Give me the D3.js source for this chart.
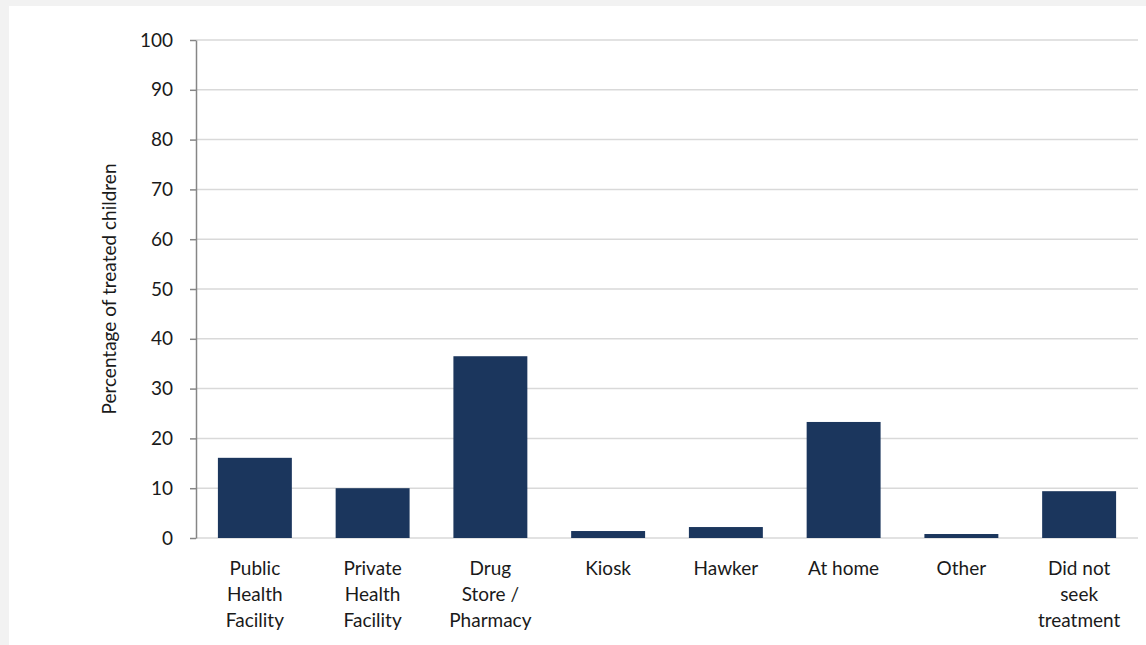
<!DOCTYPE html>
<html>
<head>
<meta charset="utf-8">
<script src="https://cdn.jsdelivr.net/npm/d3@7"></script>
<style>
  html, body { margin: 0; padding: 0; background: #f2f2f2; }
  svg { display: block; }
  text { font-family: Lato, "Open Sans", sans-serif; fill: #1a1a1a; }
</style>
</head>
<body>
<svg id="chart" width="1146" height="645"></svg>
<script>
// Where treated children sought care (% of treated children)
const categories = [
  ["Public", "Health", "Facility"],
  ["Private", "Health", "Facility"],
  ["Drug", "Store /", "Pharmacy"],
  ["Kiosk"],
  ["Hawker"],
  ["At home"],
  ["Other"],
  ["Did not", "seek", "treatment"]
];
const values = [16.1, 10.0, 36.5, 1.4, 2.2, 23.3, 0.8, 9.4];
const yTicks = [0, 10, 20, 30, 40, 50, 60, 70, 80, 90, 100];
const yTitle = "Percentage of treated children";

const fontSize = 19;
const svg = d3.select("#chart");

// white panel
svg.append("rect").attr("x", 9).attr("y", 6).attr("width", 1137).attr("height", 639).attr("fill", "#ffffff");

const x = d3.scaleBand()
  .domain(d3.range(categories.length))
  .range([196, 1138])
  .paddingInner(0.372)
  .paddingOuter(0.186);

const y = d3.scaleLinear().domain([0, 100]).range([538, 40]);

// gridlines
svg.append("g")
  .selectAll("line")
  .data(yTicks)
  .join("line")
  .attr("x1", 196).attr("x2", 1138)
  .attr("y1", d => y(d)).attr("y2", d => y(d))
  .attr("stroke", "#d9d9d9").attr("stroke-width", 1.5);

// bars
svg.append("g")
  .selectAll("rect")
  .data(values)
  .join("rect")
  .attr("x", (d, i) => x(i))
  .attr("width", x.bandwidth())
  .attr("y", d => y(d))
  .attr("height", d => y(0) - y(d))
  .attr("fill", "#1b365d");

// y axis
const yAxis = d3.axisLeft(y).tickValues(yTicks).tickSize(6).tickPadding(17).tickSizeOuter(0);
const gy = svg.append("g").attr("transform", "translate(196,0)").call(yAxis);
gy.select(".domain").attr("stroke", "#868686").attr("stroke-width", 1.5);
gy.selectAll(".tick line").attr("stroke", "#868686").attr("stroke-width", 1.5);
gy.selectAll(".tick text").attr("font-size", fontSize).attr("fill", "#1a1a1a")
  .attr("font-family", "Lato, 'Open Sans', sans-serif");

// category labels (multi-line)
const labels = svg.append("g")
  .selectAll("text")
  .data(categories)
  .join("text")
  .attr("text-anchor", "middle")
  .attr("font-size", fontSize)
  .attr("x", (d, i) => x(i) + x.bandwidth() / 2)
  .attr("y", 575);
labels.selectAll("tspan")
  .data(d => d)
  .join("tspan")
  .attr("x", function () { return d3.select(this.parentNode).attr("x"); })
  .attr("dy", (d, i) => i === 0 ? 0 : 26)
  .text(d => d);

// y title
svg.append("text")
  .attr("transform", "translate(116,289) rotate(-90)")
  .attr("text-anchor", "middle")
  .attr("font-size", fontSize)
  .text(yTitle);
</script>
</body>
</html>
